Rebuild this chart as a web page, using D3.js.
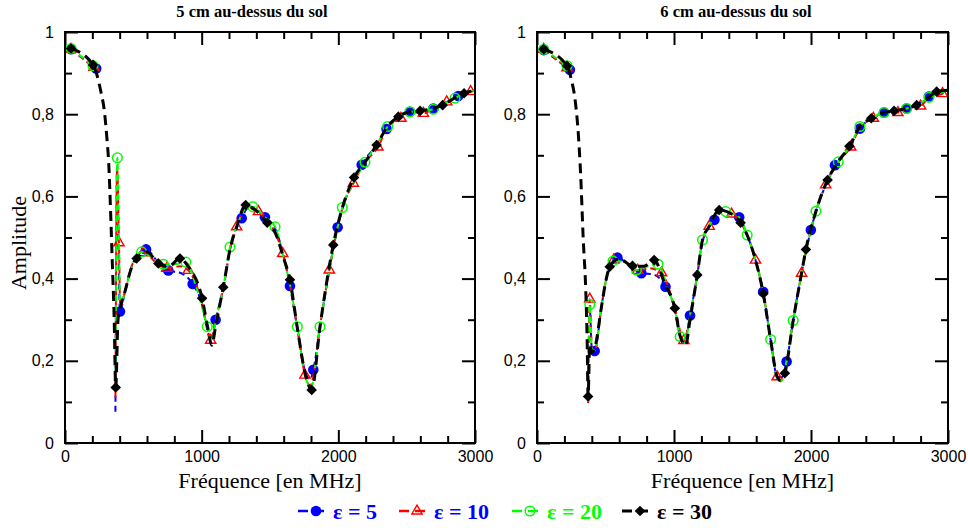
<!DOCTYPE html>
<html><head><meta charset="utf-8">
<script src="https://cdn.jsdelivr.net/npm/d3@7/dist/d3.min.js"></script>
<style>body{margin:0;background:#fff}svg{display:block}</style>
</head><body><svg id="c" width="968" height="528"></svg>
<script>
// ---- data: [frequency MHz, amplitude, marker?]  (null amplitude = gap in the curve) ----
const panelTitles = ["5 cm au-dessus du sol", "6 cm au-dessus du sol"];
const legendLabels = ["ε = 5", "ε = 10", "ε = 20", "ε = 30"];
const xTickValues = [0, 1000, 2000, 3000];
const yTickValues = [0, 0.2, 0.4, 0.6, 0.8, 1];

const left_e5 = [[44,0.958,1],[228,0.911,1],[300,null,0],[369,0.076,0],[381,0.67,0],[392,0.47,0],[402,0.32,1],[440,0.37,0],[500,0.44,0],[593,0.471,1],[680,0.44,0],[756,0.42,1],[850,0.413,0],[934,0.387,1],[1000,0.34,0],[1040,0.28,0],[1068,0.25,0],[1102,0.30,1],[1160,0.38,0],[1210,0.475,0],[1293,0.547,1],[1340,0.572,0],[1400,0.565,0],[1463,0.549,1],[1540,0.52,0],[1600,0.455,0],[1646,0.382,1],[1700,0.28,0],[1760,0.17,0],[1795,0.155,0],[1817,0.178,1],[1866,0.285,0],[1934,0.42,0],[1995,0.525,1],[2060,0.6,0],[2110,0.632,0],[2171,0.677,1],[2280,0.725,0],[2353,0.764,1],[2440,0.794,0],[2524,0.806,1],[2600,0.808,0],[2695,0.814,1],[2790,0.828,0],[2878,0.844,1],[3000,0.858,0]];
const left_e10 = [[44,0.958,1],[212,0.914,1],[300,null,0],[369,0.11,0],[381,0.67,0],[395,0.487,1],[404,0.33,0],[440,0.37,0],[500,0.44,0],[575,0.463,1],[680,0.435,0],[745,0.425,1],[840,0.43,0],[902,0.42,1],[1000,0.345,0],[1066,0.25,1],[1105,0.30,0],[1160,0.38,0],[1210,0.475,0],[1256,0.526,1],[1330,0.573,0],[1415,0.563,1],[1480,0.54,0],[1540,0.51,0],[1593,0.461,1],[1646,0.385,0],[1700,0.28,0],[1756,0.165,1],[1795,0.14,0],[1830,0.19,0],[1866,0.283,0],[1934,0.421,1],[1995,0.525,0],[2030,0.572,0],[2110,0.632,1],[2195,0.683,0],[2290,0.72,1],[2360,0.768,0],[2458,0.79,1],[2524,0.806,0],[2622,0.802,1],[2695,0.814,0],[2793,0.83,1],[2880,0.844,0],[2968,0.855,1],[3000,0.858,0]];
const left_e20 = [[44,0.96,1],[205,0.918,1],[300,null,0],[370,0.15,0],[383,0.694,1],[395,0.49,0],[404,0.33,0],[440,0.37,0],[500,0.44,0],[561,0.465,1],[640,0.45,0],[720,0.435,1],[800,0.435,0],[884,0.44,1],[960,0.38,0],[1041,0.283,1],[1072,0.245,0],[1105,0.30,0],[1160,0.38,0],[1207,0.477,1],[1260,0.53,0],[1320,0.57,0],[1373,0.575,1],[1463,0.549,0],[1537,0.526,1],[1600,0.45,0],[1646,0.385,0],[1700,0.283,1],[1760,0.16,0],[1800,0.135,0],[1866,0.283,1],[1934,0.421,0],[1995,0.525,0],[2029,0.573,1],[2110,0.632,0],[2195,0.683,1],[2280,0.725,0],[2361,0.77,1],[2440,0.794,0],[2524,0.806,1],[2600,0.808,0],[2695,0.812,1],[2790,0.828,0],[2854,0.839,1],[2920,0.851,0],[3000,0.858,0]];
const left_e30 = [[44,0.96,1],[205,0.92,1],[263,0.854,0],[289,0.805,0],[307,0.74,0],[320,0.68,0],[335,0.55,0],[345,0.45,0],[360,0.3,0],[371,0.135,1],[388,0.30,0],[405,0.33,0],[440,0.37,0],[480,0.42,0],[524,0.449,1],[600,0.465,0],[683,0.437,1],[760,0.43,0],[841,0.449,1],[900,0.43,0],[1003,0.352,1],[1045,0.28,0],[1073,0.238,0],[1105,0.29,0],[1158,0.379,1],[1210,0.475,0],[1260,0.53,0],[1322,0.579,1],[1400,0.565,0],[1480,0.536,1],[1540,0.51,0],[1600,0.45,0],[1646,0.397,1],[1700,0.28,0],[1760,0.165,0],[1805,0.129,1],[1866,0.283,0],[1963,0.482,1],[2030,0.573,0],[2115,0.646,1],[2195,0.683,0],[2280,0.725,1],[2360,0.77,0],[2439,0.794,1],[2524,0.806,0],[2598,0.808,1],[2695,0.814,0],[2763,0.822,1],[2854,0.84,0],[2920,0.851,1],[3000,0.858,0]];

const right_e5 = [[49,0.956,1],[240,0.908,1],[300,null,0],[373,0.1,0],[385,0.33,0],[400,0.23,0],[421,0.224,1],[470,0.33,0],[500,0.39,0],[587,0.451,1],[680,0.43,0],[762,0.413,1],[850,0.41,0],[938,0.38,1],[1006,0.325,0],[1045,0.26,0],[1080,0.245,0],[1117,0.31,1],[1170,0.409,0],[1208,0.49,0],[1295,0.543,1],[1340,0.565,0],[1476,0.549,1],[1534,0.506,0],[1595,0.445,0],[1651,0.368,1],[1705,0.252,0],[1750,0.165,0],[1785,0.16,0],[1822,0.198,1],[1870,0.298,0],[1931,0.413,0],[1999,0.518,1],[2107,0.628,0],[2175,0.676,1],[2280,0.72,0],[2357,0.765,1],[2440,0.79,0],[2533,0.804,1],[2606,0.808,0],[2698,0.814,1],[2771,0.822,0],[2861,0.843,1],[3000,0.858,0]];
const right_e10 = [[49,0.958,1],[219,0.913,1],[300,null,0],[373,0.097,0],[385,0.35,1],[400,0.23,0],[421,0.225,0],[470,0.33,0],[500,0.39,0],[560,0.445,1],[640,0.44,0],[735,0.42,1],[820,0.425,0],[909,0.414,1],[1006,0.328,0],[1072,0.249,1],[1117,0.31,0],[1170,0.409,0],[1208,0.494,0],[1257,0.527,1],[1330,0.566,0],[1420,0.557,1],[1486,0.536,0],[1534,0.506,0],[1595,0.445,1],[1651,0.366,0],[1705,0.252,0],[1753,0.161,1],[1780,0.15,0],[1822,0.2,0],[1870,0.298,0],[1931,0.413,1],[1999,0.518,0],[2036,0.564,0],[2107,0.628,1],[2199,0.684,0],[2290,0.72,1],[2357,0.768,0],[2455,0.79,1],[2533,0.804,0],[2634,0.804,1],[2698,0.814,0],[2800,0.82,1],[2861,0.841,0],[2960,0.85,1],[3000,0.858,0]];
const right_e20 = [[49,0.958,1],[219,0.918,1],[300,null,0],[373,0.1,0],[385,0.337,1],[400,0.23,0],[421,0.225,0],[470,0.33,0],[500,0.39,0],[555,0.443,1],[640,0.44,0],[726,0.421,1],[810,0.43,0],[884,0.435,1],[960,0.37,0],[1006,0.328,0],[1045,0.259,1],[1080,0.243,0],[1117,0.31,0],[1170,0.409,0],[1208,0.494,1],[1257,0.527,0],[1330,0.566,0],[1378,0.563,1],[1476,0.549,0],[1534,0.506,1],[1595,0.445,0],[1651,0.366,0],[1705,0.252,1],[1750,0.16,0],[1780,0.15,0],[1822,0.2,0],[1870,0.298,1],[1931,0.413,0],[1999,0.518,0],[2036,0.564,1],[2107,0.628,0],[2199,0.684,1],[2280,0.72,0],[2357,0.77,1],[2440,0.79,0],[2533,0.804,1],[2606,0.808,0],[2698,0.814,1],[2771,0.822,0],[2861,0.841,1],[3000,0.858,0]];
const right_e30 = [[49,0.958,1],[219,0.918,1],[250,0.885,0],[280,0.83,0],[302,0.75,0],[319,0.65,0],[337,0.5,0],[356,0.37,0],[366,0.25,0],[373,0.113,1],[385,0.24,0],[400,0.22,0],[421,0.23,0],[470,0.33,0],[500,0.39,0],[531,0.429,1],[600,0.448,0],[697,0.431,1],[780,0.43,0],[855,0.445,1],[930,0.39,0],[1006,0.328,1],[1045,0.26,0],[1085,0.238,0],[1117,0.3,0],[1170,0.409,1],[1208,0.494,0],[1257,0.527,0],[1330,0.567,1],[1420,0.557,0],[1486,0.536,1],[1534,0.506,0],[1595,0.445,0],[1651,0.364,1],[1705,0.252,0],[1753,0.161,0],[1778,0.152,0],[1809,0.17,1],[1870,0.298,0],[1931,0.413,0],[1963,0.471,1],[2036,0.564,0],[2121,0.64,1],[2199,0.684,0],[2280,0.722,1],[2357,0.77,0],[2440,0.79,1],[2533,0.804,0],[2606,0.808,1],[2698,0.814,0],[2771,0.822,1],[2861,0.841,0],[2917,0.855,1],[3000,0.858,0]];

// ---- drawing ----
const svg = d3.select("#c");
svg.append("rect").attr("width",968).attr("height",528).attr("fill","#fff");

const styles = [
  {color:"#0000ff", dash:"6,4", width:2, marker:"circleFill"},
  {color:"#ff0000", dash:"6,4", width:2, marker:"triangle"},
  {color:"#00ff00", dash:"6,4", width:2, marker:"circleOpen"},
  {color:"#000000", dash:"10,6", width:3, marker:"diamond"}
];
const legendTextColors = ["#0000ff","#0000ff","#00ff00","#000000"];

function drawMarker(g, type, x, y, color){
  if(type==="circleFill"){
    g.append("circle").attr("cx",x).attr("cy",y).attr("r",5.3).attr("fill",color);
  } else if(type==="circleOpen"){
    g.append("circle").attr("cx",x).attr("cy",y).attr("r",4.8).attr("fill","none").attr("stroke",color).attr("stroke-width",1.5);
  } else if(type==="triangle"){
    g.append("path").attr("d",d3.symbol(d3.symbolTriangle,46)()).attr("transform",`translate(${x},${y})`)
      .attr("fill","none").attr("stroke",color).attr("stroke-width",1.4);
  } else {
    g.append("path").attr("d",d3.symbol(d3.symbolSquare,56)()).attr("transform",`translate(${x},${y}) rotate(45)`)
      .attr("fill",color);
  }
}

const panels = [
  {x0:65, x1:475, title:panelTitles[0], titleX:252, series:[left_e5,left_e10,left_e20,left_e30]},
  {x0:537, x1:948, title:panelTitles[1], titleX:736, series:[right_e5,right_e10,right_e20,right_e30]}
];
const yTop = 32, yBot = 443;
const fmt = d => d===0 ? "0" : d===1 ? "1" : d.toFixed(1).replace(".", ",");
const minorY = d3.range(0.1, 1.0, 0.2);
const minorX = d3.range(0, 3001, 200).filter(v => v % 1000 !== 0);

panels.forEach((p, pi) => {
  const x = d3.scaleLinear().domain([0,3000]).range([p.x0, p.x1]);
  const y = d3.scaleLinear().domain([0,1]).range([yBot, yTop]);
  const g = svg.append("g");

  const clipId = "clip"+pi;
  svg.append("clipPath").attr("id",clipId).append("rect")
    .attr("x",p.x0).attr("y",yTop).attr("width",p.x1-p.x0).attr("height",yBot-yTop);
  const line = d3.line().defined(d => d[1] != null).x(d=>x(d[0])).y(d=>y(d[1])).curve(d3.curveMonotoneX);
  p.series.forEach((s, si) => {
    const st = styles[si];
    const sg = g.append("g").attr("clip-path",`url(#${clipId})`);
    sg.append("path").datum(s).attr("d",line).attr("fill","none")
      .attr("stroke",st.color).attr("stroke-width",st.width).attr("stroke-dasharray",st.dash);
    s.filter(d=>d[2] && d[1] != null).forEach(d => drawMarker(sg, st.marker, x(d[0]), y(d[1]), st.color));
  });

  const axStyle = a => { a.select(".domain").remove(); a.selectAll("line").attr("stroke","#000").attr("stroke-width",2);
    a.selectAll("text").attr("font-family","'Liberation Sans', Arial, sans-serif").attr("font-size",16).attr("fill","#000"); };
  g.append("g").attr("transform",`translate(${p.x0},0)`).call(d3.axisLeft(y).tickValues(yTickValues).tickFormat(fmt).tickSize(-13).tickPadding(11)).call(axStyle);
  g.append("g").attr("transform",`translate(${p.x0},0)`).call(d3.axisLeft(y).tickValues(minorY).tickFormat("").tickSize(-7)).call(axStyle);
  g.append("g").attr("transform",`translate(${p.x1},0)`).call(d3.axisRight(y).tickValues(yTickValues).tickFormat("").tickSize(-13)).call(axStyle);
  g.append("g").attr("transform",`translate(${p.x1},0)`).call(d3.axisRight(y).tickValues(minorY).tickFormat("").tickSize(-7)).call(axStyle);
  g.append("g").attr("transform",`translate(0,${yBot})`).call(d3.axisBottom(x).tickValues(xTickValues).tickFormat(d3.format("d")).tickSize(-13).tickPadding(8)).call(axStyle);
  g.append("g").attr("transform",`translate(0,${yBot})`).call(d3.axisBottom(x).tickValues(minorX).tickFormat("").tickSize(-7)).call(axStyle);
  g.append("g").attr("transform",`translate(0,${yTop})`).call(d3.axisTop(x).tickValues(xTickValues).tickFormat("").tickSize(-13)).call(axStyle);
  g.append("g").attr("transform",`translate(0,${yTop})`).call(d3.axisTop(x).tickValues(minorX).tickFormat("").tickSize(-7)).call(axStyle);

  g.append("rect").attr("x",p.x0).attr("y",yTop).attr("width",p.x1-p.x0).attr("height",yBot-yTop)
    .attr("fill","none").attr("stroke","#000").attr("stroke-width",2);

  g.append("text").attr("x",p.titleX).attr("y",17).attr("text-anchor","middle")
    .attr("font-family","'Liberation Serif', 'Times New Roman', serif").attr("font-weight","bold").attr("font-size",16.5)
    .text(p.title);
  g.append("text").attr("x",(p.x0+p.x1)/2).attr("y",488).attr("text-anchor","middle")
    .attr("font-family","'Liberation Serif', 'Times New Roman', serif").attr("font-size",22)
    .text("Fréquence [en MHz]");
});

svg.append("text").attr("transform","translate(26,243) rotate(-90)").attr("text-anchor","middle")
  .attr("font-family","'Liberation Serif', 'Times New Roman', serif").attr("font-size",22).text("Amplitude");

const legendX = [298, 399, 512, 622];
legendLabels.forEach((lab, i) => {
  const st = styles[i];
  const lg = svg.append("g");
  const lx = legendX[i], ly = 511;
  lg.append("line").attr("x1",lx).attr("x2",lx+27).attr("y1",ly).attr("y2",ly)
    .attr("stroke",st.color).attr("stroke-width",i===3?3:2.5).attr("stroke-dasharray","10,6");
  drawMarker(lg, st.marker, lx+18, ly, st.color);
  lg.append("text").attr("x",lx+35).attr("y",ly+8).attr("font-family","'Liberation Serif', 'Times New Roman', serif")
    .attr("font-weight","bold").attr("font-size",22).attr("fill",legendTextColors[i]).text(lab);
});
</script></body></html>
